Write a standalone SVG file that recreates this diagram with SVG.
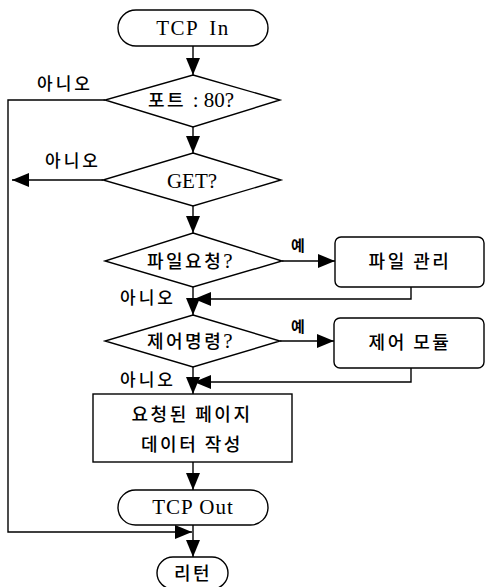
<svg xmlns="http://www.w3.org/2000/svg" width="485" height="587" viewBox="0 0 485 587">
<style>
.s{fill:#fff;stroke:#000;stroke-width:1.4}
.c{fill:none;stroke:#000;stroke-width:1.4}
.lt{font-family:"Liberation Serif","Times New Roman",serif;font-size:21px;fill:#000;text-anchor:middle}
.ko{font-family:"Noto Sans CJK KR","Noto Sans",sans-serif;font-size:18px;font-weight:500;fill:#000;text-anchor:middle;letter-spacing:2.5px}
.lb{font-family:"Noto Sans CJK KR","Noto Sans",sans-serif;font-size:17px;font-weight:500;fill:#000;letter-spacing:3px}
.ye{font-family:"Noto Sans CJK KR","Noto Sans",sans-serif;font-size:15px;font-weight:700;fill:#000}
</style>
<defs>
<marker id="a" markerUnits="userSpaceOnUse" markerWidth="18" markerHeight="14" refX="17" refY="7" orient="auto">
<path d="M0,0 L17,7 L0,14 Z" fill="#000"/>
</marker>
</defs>
<rect width="485" height="587" fill="#fff"/>
<g id="connectors">
<path class="c" d="M193,46 V75" marker-end="url(#a)"/>
<path class="c" d="M193,127 V153" marker-end="url(#a)"/>
<path class="c" d="M193,206 V233" marker-end="url(#a)"/>
<path class="c" d="M193,287 V315" marker-end="url(#a)"/>
<path class="c" d="M193,367 V394" marker-end="url(#a)"/>
<path class="c" d="M193,462 V490" marker-end="url(#a)"/>
<path class="c" d="M193,525 V557" marker-end="url(#a)"/>
<path class="c" d="M105,100 H8 V532 H192" marker-end="url(#a)"/>
<path class="c" d="M103,180 H12" marker-end="url(#a)"/>
<path class="c" d="M282,261 H335" marker-end="url(#a)"/>
<path class="c" d="M280,341 H334" marker-end="url(#a)"/>
<path class="c" d="M411,287 V299 H194" marker-end="url(#a)"/>
<path class="c" d="M411,368 V382 H194" marker-end="url(#a)"/>
<text class="lb" x="37" y="90">아니오</text>
<text class="lb" x="45" y="167">아니오</text>
<text class="ye" x="291" y="251">예</text>
<text class="lb" x="120" y="304">아니오</text>
<text class="ye" x="291" y="332">예</text>
<text class="lb" x="120" y="386">아니오</text>
</g>
<g id="tcp-in">
<rect class="s" x="118" y="10" width="150" height="36" rx="18"/>
<text class="lt" x="193" y="35" letter-spacing="1.5" word-spacing="4">TCP In</text>
</g>
<g id="port80">
<polygon class="s" points="193,75 280,100 193,127 105,100"/>
<text class="ko" x="191" y="107"><tspan>포트 </tspan><tspan font-family="Liberation Serif,serif" font-size="21" font-weight="400" letter-spacing="0">: 80?</tspan></text>
</g>
<g id="get">
<polygon class="s" points="193,153 281,180 193,206 103,180"/>
<text class="lt" x="192" y="188">GET?</text>
</g>
<g id="file-req">
<polygon class="s" points="193,233 282,261 193,287 105,261"/>
<text class="ko" x="191" y="268">파일요청<tspan font-family="Liberation Serif,serif" font-size="21" font-weight="400">?</tspan></text>
</g>
<g id="file-mgmt">
<rect class="s" x="335" y="237" width="149" height="50" rx="6"/>
<text class="ko" x="410" y="268">파일 관리</text>
</g>
<g id="ctrl-cmd">
<polygon class="s" points="193,315 280,341 193,367 105,341"/>
<text class="ko" x="191" y="348">제어명령<tspan font-family="Liberation Serif,serif" font-size="21" font-weight="400">?</tspan></text>
</g>
<g id="ctrl-module">
<rect class="s" x="334" y="318" width="150" height="50" rx="6"/>
<text class="ko" x="410" y="349">제어 모듈</text>
</g>
<g id="page-data">
<rect class="s" x="93" y="394" width="199" height="68"/>
<text class="ko" x="192" y="421">요청된 페이지</text>
<text class="ko" x="192" y="451">데이터 작성</text>
</g>
<g id="tcp-out">
<rect class="s" x="118" y="490" width="150" height="35" rx="17.5"/>
<text class="lt" x="193" y="514" letter-spacing="1">TCP Out</text>
</g>
<g id="return">
<rect class="s" x="157" y="557" width="71" height="32" rx="16"/>
<text class="ko" x="193" y="580" letter-spacing="3">리턴</text>
</g>
</svg>
